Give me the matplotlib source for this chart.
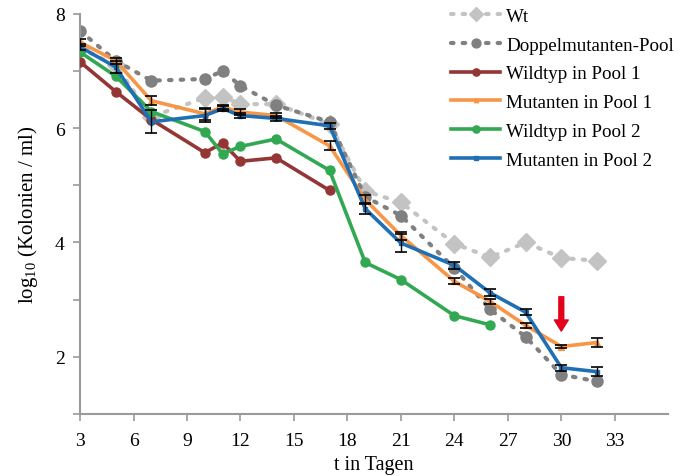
import numpy as np
from matplotlib import pyplot as plt

plt.rcParams['font.family'] = ['Liberation Serif', 'DejaVu Serif']
plt.rcParams['mathtext.fontset'] = 'custom'
plt.rcParams['mathtext.rm'] = 'Liberation Serif'

# DATA
days = [3, 5, 7, 10, 11, 12, 14, 17, 19, 21, 24, 26, 28, 30, 32]
wt = [7.40, 7.10, 6.20, 6.53, 6.55, 6.42, 6.42, 6.07, 4.90, 4.70, 3.98, 3.74, 4.00, 3.73, 3.68]
doppel = [7.70, 7.18, 6.83, 6.86, 7.00, 6.74, 6.40, 6.11, 4.80, 4.47, 3.55, 2.83, 2.35, 1.69, 1.57]

days_p1 = [3, 5, 7, 10, 11, 12, 14, 17]
wild_p1 = [7.16, 6.64, 6.15, 5.57, 5.74, 5.42, 5.48, 4.91]
mut_p1 = [7.50, 7.18, 6.48, 6.25, 6.37, 6.28, 6.22, 5.69, 4.75, 4.12, 3.32, 2.97, 2.55, 2.18, 2.25]
mut_p1_err = [0.06, 0.05, 0.08, 0.10, 0.04, 0.05, 0.05, 0.08, 0.08, 0.07, 0.05, 0.05, 0.05, 0.03, 0.08]

days_p2 = [3, 5, 7, 10, 11, 12, 14, 17, 19, 21, 24, 26]
wild_p2 = [7.33, 6.91, 6.29, 5.94, 5.55, 5.68, 5.81, 5.26, 3.65, 3.35, 2.72, 2.56]
mut_p2 = [7.42, 7.07, 6.11, 6.22, 6.34, 6.22, 6.17, 6.04, 4.59, 3.99, 3.60, 3.12, 2.78, 1.81, 1.74]
mut_p2_err = [0.05, 0.10, 0.20, 0.12, 0.04, 0.05, 0.05, 0.05, 0.10, 0.15, 0.06, 0.06, 0.05, 0.05, 0.08]

fig = plt.figure(figsize=(6.84, 4.77), dpi=100)
ax = fig.add_axes([0.117, 0.130, 0.860, 0.839])

ax.plot(days, wt, color='#c3c3c3', lw=3, ls=(0, (0.6, 2.2)), dash_capstyle='round',
        marker='D', ms=9, label='Wt', zorder=2)
ax.plot(days, doppel, color='#808080', lw=3, ls=(0, (0.6, 2.2)), dash_capstyle='round',
        marker='o', ms=8, label='Doppelmutanten-Pool', zorder=2)
ax.plot(days_p1, wild_p1, color='#943634', lw=2.6, marker='o', ms=6.5,
        label='Wildtyp in Pool 1', zorder=3)
ax.plot(days, mut_p1, color='#f79646', lw=2.6, marker='^', ms=4,
        label='Mutanten in Pool 1', zorder=3)
ax.plot(days_p2, wild_p2, color='#33a852', lw=2.6, marker='o', ms=6.5,
        label='Wildtyp in Pool 2', zorder=3)
ax.plot(days, mut_p2, color='#1f6fb4', lw=2.6, marker='s', ms=3.5,
        label='Mutanten in Pool 2', zorder=4)

ax.errorbar(days, mut_p1, yerr=mut_p1_err, fmt='none', ecolor='black', elinewidth=1,
            capsize=4, capthick=1.2, zorder=5)
ax.errorbar(days, mut_p2, yerr=mut_p2_err, fmt='none', ecolor='black', elinewidth=1,
            capsize=4, capthick=1.2, zorder=5)

# red arrow
ax.annotate('', xy=(30, 2.45), xytext=(30, 3.05),
            arrowprops=dict(color='#e3001b', width=3.5, headwidth=10, headlength=8))

ax.set_xlim(3, 36)
ax.set_ylim(1, 8)
ax.set_xticks(np.arange(3, 34, 3))
ax.set_yticks([2, 4, 6, 8])
ax.set_yticks([1, 3, 5, 7], minor=True)
for s in ['top', 'right']:
    ax.spines[s].set_visible(False)
for s in ['left', 'bottom']:
    ax.spines[s].set_color('#9a9a9a')
    ax.spines[s].set_linewidth(1.5)
ax.tick_params(which='both', direction='out', length=5, width=1.2, color='#9a9a9a',
               labelsize=14)
ax.tick_params(axis='x', pad=8)
ax.tick_params(axis='y', pad=6)

ax.set_xlabel('t in Tagen', fontsize=14.5, labelpad=4.5)
ax.set_ylabel('log$_{\\mathrm{10}}$ (Kolonien / ml)', fontsize=15, labelpad=11)

leg = ax.legend(loc='upper left', bbox_to_anchor=(0.648, 0.998), bbox_transform=fig.transFigure,
                borderaxespad=0, frameon=False, fontsize=13.7, handlelength=2.6,
                labelspacing=0.6, handletextpad=0.3, markerscale=0.8)

plt.savefig('out.png', dpi=100)
